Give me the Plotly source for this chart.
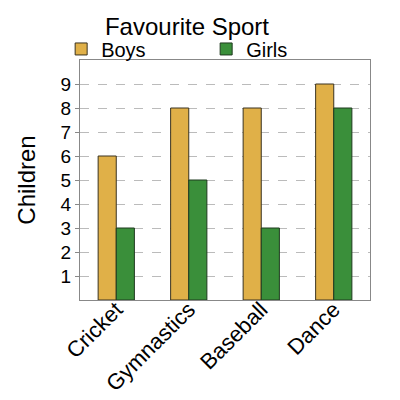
import plotly.graph_objects as go

categories = ["Cricket", "Gymnastics", "Baseball", "Dance"]
boys = [6, 8, 8, 9]
girls = [3, 5, 3, 8]
y_ticks = [1, 2, 3, 4, 5, 6, 7, 8, 9]

fig = go.Figure()
fig.add_trace(go.Bar(name="Boys", x=categories, y=boys,
                     marker=dict(color="#E0B048", line=dict(color="#3a3320", width=1))))
fig.add_trace(go.Bar(name="Girls", x=categories, y=girls,
                     marker=dict(color="#3A8F3A", line=dict(color="#1f3a1f", width=1))))

fig.update_layout(
    width=400, height=400,
    margin=dict(l=80, r=30, t=60, b=100),
    paper_bgcolor="white", plot_bgcolor="white",
    font=dict(family="Liberation Sans, Arial, sans-serif", color="black"),
    title=dict(text="Favourite Sport", x=0.4675, xref="container", xanchor="center",
               y=0.9325, yref="container", yanchor="middle", font=dict(size=24, color="black")),
    barmode="group", bargap=0.5, bargroupgap=0,
    legend=dict(orientation="h", x=-0.065, xanchor="left", y=1.046, yanchor="middle",
                font=dict(size=20), entrywidth=100, entrywidthmode="pixels",
                itemwidth=30, tracegroupgap=0, bgcolor="rgba(0,0,0,0)",
                borderwidth=0),
    xaxis=dict(tickangle=-45, tickfont=dict(size=22), showline=True, linecolor="#888",
               mirror=True, linewidth=1, ticks="", automargin=False,
               ticklabelstandoff=-13),
    yaxis=dict(range=[0, 10], tickvals=y_ticks, tickfont=dict(size=19),
               showgrid=True, gridcolor="#bbb", griddash="dash", gridwidth=1,
               zeroline=False, showline=True, linecolor="#888", mirror=True, linewidth=1,
               ticks="outside", ticklen=4, tickcolor="#888", automargin=False,
               title=dict(text="Children", font=dict(size=24), standoff=18)),
)
fig.write_html("out.html", config={"displayModeBar": False},
               post_script="document.body.style.margin='0';")
